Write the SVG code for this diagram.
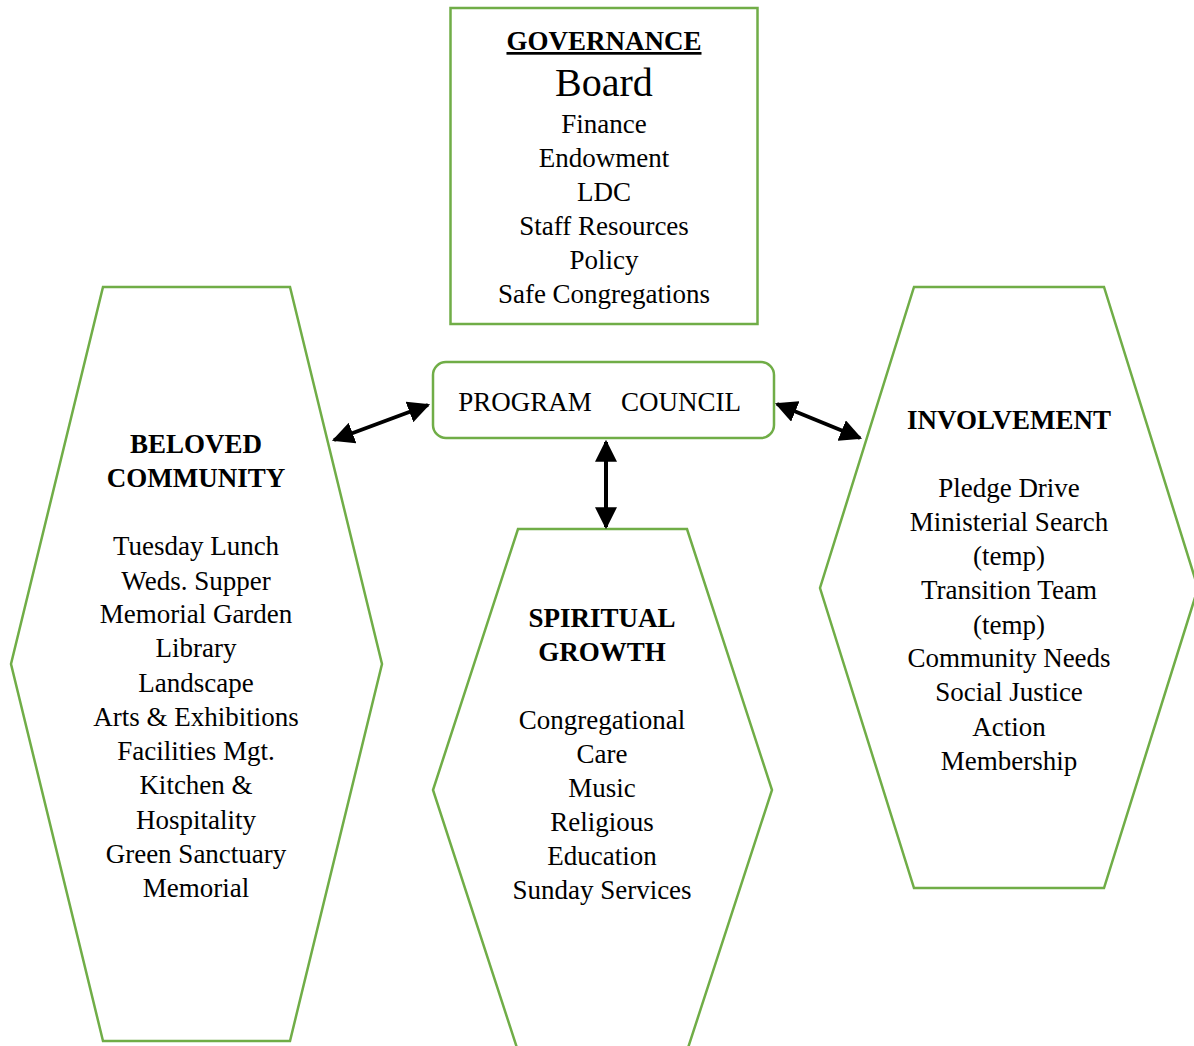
<svg xmlns="http://www.w3.org/2000/svg" width="1194" height="1046" viewBox="0 0 1194 1046">
<style>
.box{fill:#fff;stroke:#70AD47;stroke-width:2.5}
text{font-family:"Liberation Serif","Times New Roman",serif;font-size:27px;fill:#000;text-anchor:middle}
.b{font-weight:bold}
.conn{stroke:#000;stroke-width:4;fill:none}
</style>
<defs>
<marker id="ah" viewBox="0 0 10 10" refX="9" refY="5" markerWidth="5.5" markerHeight="5.5" orient="auto-start-reverse" markerUnits="strokeWidth">
<path d="M0,0 L10,5 L0,10 z" fill="#000"/>
</marker>
</defs>
<rect width="1194" height="1046" fill="#fff"/>
<g id="governance">
<rect class="box" x="450.5" y="8" width="307" height="316"/>
<text x="604" y="50" class="b" text-decoration="underline">GOVERNANCE</text>
<text x="604" y="96" style="font-size:40px">Board</text>
<text x="604" y="133">Finance</text>
<text x="604" y="167">Endowment</text>
<text x="604" y="201">LDC</text>
<text x="604" y="235">Staff Resources</text>
<text x="604" y="269">Policy</text>
<text x="604" y="303">Safe Congregations</text>
</g>
<g id="program-council">
<rect class="box" x="433" y="362" width="341" height="76" rx="13"/>
<text x="525" y="411">PROGRAM</text>
<text x="681" y="411">COUNCIL</text>
</g>
<g id="beloved-community">
<polygon class="box" points="103,287 290,287 382,664 290,1041 103,1041 11,664"/>
<text x="196" y="453" class="b">BELOVED</text>
<text x="196" y="487" class="b">COMMUNITY</text>
<text x="196" y="555">Tuesday Lunch</text>
<text x="196" y="590">Weds. Supper</text>
<text x="196" y="623">Memorial Garden</text>
<text x="196" y="657">Library</text>
<text x="196" y="692">Landscape</text>
<text x="196" y="726">Arts &amp; Exhibitions</text>
<text x="196" y="760">Facilities Mgt.</text>
<text x="196" y="794">Kitchen &amp;</text>
<text x="196" y="829">Hospitality</text>
<text x="196" y="863">Green Sanctuary</text>
<text x="196" y="897">Memorial</text>
</g>
<g id="spiritual-growth">
<polygon class="box" points="518,529 687,529 772,790 687,1051 518,1051 433,790"/>
<text x="602" y="627" class="b">SPIRITUAL</text>
<text x="602" y="661" class="b">GROWTH</text>
<text x="602" y="729">Congregational</text>
<text x="602" y="763">Care</text>
<text x="602" y="797">Music</text>
<text x="602" y="831">Religious</text>
<text x="602" y="865">Education</text>
<text x="602" y="899">Sunday Services</text>
</g>
<g id="involvement">
<polygon class="box" points="914,287 1104,287 1198,588 1104,888 914,888 820,588"/>
<text x="1009" y="429" class="b">INVOLVEMENT</text>
<text x="1009" y="497">Pledge Drive</text>
<text x="1009" y="531">Ministerial Search</text>
<text x="1009" y="565">(temp)</text>
<text x="1009" y="599">Transition Team</text>
<text x="1009" y="634">(temp)</text>
<text x="1009" y="667">Community Needs</text>
<text x="1009" y="701">Social Justice</text>
<text x="1009" y="736">Action</text>
<text x="1009" y="770">Membership</text>
</g>
<g id="connectors">
<line class="conn" x1="428" y1="405" x2="334" y2="440" marker-start="url(#ah)" marker-end="url(#ah)"/>
<line class="conn" x1="777" y1="404" x2="860" y2="438" marker-start="url(#ah)" marker-end="url(#ah)"/>
<line class="conn" x1="606" y1="442" x2="606" y2="527" marker-start="url(#ah)" marker-end="url(#ah)"/>
</g>
</svg>
